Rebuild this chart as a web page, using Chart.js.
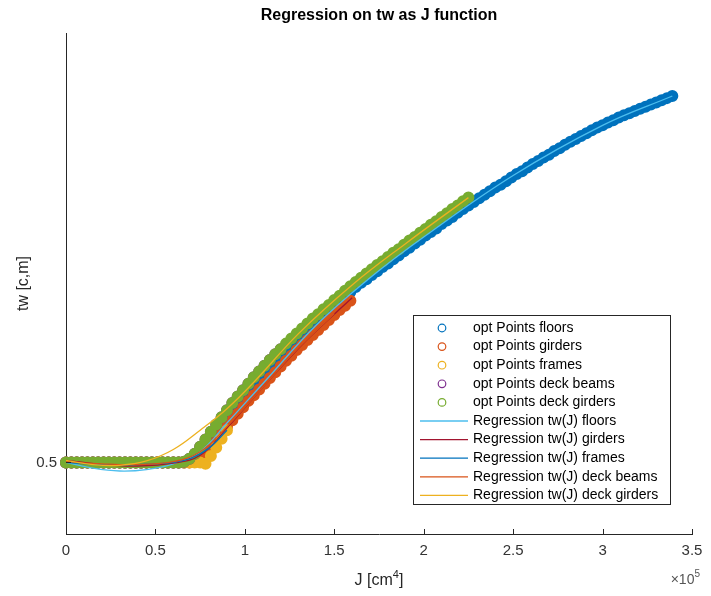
<!DOCTYPE html>
<html>
<head>
<meta charset="utf-8">
<title>Regression on tw as J function</title>
<script src="https://cdn.jsdelivr.net/npm/chart.js@4.4.0/dist/chart.umd.min.js"></script>
<style>
    body { margin: 0; background: #ffffff; }
    canvas { display: block; }
</style>
</head>
<body>
<canvas id="grafico" width="711" height="596"></canvas>
<script>
// J in units of 1e5 cm^4 (the axis shows x10^5)
const jPassos = [
    0.00, 0.03, 0.06, 0.09, 0.12, 0.15, 0.18, 0.21, 0.24, 0.27,
    0.30, 0.33, 0.36, 0.39, 0.42, 0.45, 0.48, 0.51, 0.54, 0.57,
    0.60, 0.63, 0.66, 0.69, 0.72, 0.75, 0.78, 0.81, 0.84, 0.87,
    0.90, 0.93, 0.96, 0.99, 1.02, 1.05, 1.08, 1.11, 1.14, 1.17,
    1.20, 1.23, 1.26, 1.29, 1.32, 1.35, 1.38, 1.41, 1.44, 1.47,
    1.50, 1.53, 1.56, 1.59, 1.62, 1.65, 1.68, 1.71, 1.74, 1.77,
    1.80, 1.83, 1.86, 1.89, 1.92, 1.95, 1.98, 2.01, 2.04, 2.07,
    2.10, 2.13, 2.16, 2.19, 2.22, 2.25, 2.28, 2.31, 2.34, 2.37,
    2.40, 2.43, 2.46, 2.49, 2.52, 2.55, 2.58, 2.61, 2.64, 2.67,
    2.70, 2.73, 2.76, 2.79, 2.82, 2.85, 2.88, 2.91, 2.94, 2.97,
    3.00, 3.03, 3.06, 3.09, 3.12, 3.15, 3.18, 3.21, 3.24, 3.27,
    3.30, 3.33, 3.36, 3.39
];

const twFloors = [
    0.500, 0.500, 0.500, 0.500, 0.500, 0.500, 0.500, 0.500, 0.500, 0.500,
    0.500, 0.500, 0.500, 0.500, 0.500, 0.500, 0.500, 0.500, 0.500, 0.500,
    0.500, 0.500, 0.500, 0.502, 0.507, 0.514, 0.522, 0.531, 0.540, 0.549,
    0.558, 0.567, 0.576, 0.585, 0.594, 0.602, 0.611, 0.619, 0.627, 0.635,
    0.643, 0.651, 0.659, 0.666, 0.674, 0.681, 0.688, 0.695, 0.702, 0.709,
    0.716, 0.723, 0.730, 0.738, 0.745, 0.751, 0.756, 0.762, 0.767, 0.773,
    0.778, 0.784, 0.789, 0.795, 0.800, 0.806, 0.811, 0.817, 0.822, 0.827,
    0.833, 0.838, 0.843, 0.849, 0.854, 0.859, 0.864, 0.869, 0.874, 0.879,
    0.884, 0.888, 0.893, 0.898, 0.903, 0.907, 0.912, 0.917, 0.921, 0.926,
    0.930, 0.935, 0.939, 0.944, 0.948, 0.952, 0.956, 0.960, 0.964, 0.968,
    0.971, 0.975, 0.978, 0.982, 0.985, 0.988, 0.991, 0.994, 0.997, 1.000,
    1.003, 1.006, 1.009, 1.012
];

const twGirders = [
    0.500, 0.500, 0.500, 0.500, 0.500, 0.500, 0.500, 0.500, 0.500, 0.500,
    0.500, 0.500, 0.500, 0.500, 0.500, 0.500, 0.500, 0.500, 0.500, 0.500,
    0.500, 0.500, 0.500, 0.500, 0.503, 0.508, 0.515, 0.523, 0.532, 0.541,
    0.550, 0.559, 0.568, 0.577, 0.586, 0.594, 0.602, 0.610, 0.618, 0.626,
    0.634, 0.642, 0.649, 0.657, 0.664, 0.671, 0.678, 0.685, 0.692, 0.699,
    0.706, 0.713, 0.719, 0.726
];

const twFrames = [
    0.500, 0.500, 0.500, 0.500, 0.500, 0.500, 0.500, 0.500, 0.500, 0.500,
    0.500, 0.500, 0.500, 0.500, 0.500, 0.500, 0.500, 0.500, 0.500, 0.500,
    0.500, 0.500, 0.500, 0.500, 0.500, 0.500, 0.498, 0.509, 0.521, 0.533,
    0.545
];

const twDeckBeams = [
    0.500, 0.500, 0.500, 0.500, 0.500, 0.500, 0.500, 0.500, 0.500, 0.500,
    0.500, 0.500, 0.500, 0.500, 0.500, 0.500, 0.500, 0.500, 0.500, 0.500,
    0.500, 0.500, 0.501, 0.505, 0.512, 0.522, 0.532, 0.543, 0.553, 0.563,
    0.573, 0.583, 0.592, 0.601, 0.610, 0.619, 0.627, 0.635, 0.643, 0.651,
    0.658
];

const twDeckGirders = [
    0.500, 0.500, 0.500, 0.500, 0.500, 0.500, 0.500, 0.500, 0.500, 0.500,
    0.500, 0.500, 0.500, 0.500, 0.500, 0.500, 0.500, 0.500, 0.500, 0.500,
    0.500, 0.500, 0.501, 0.505, 0.512, 0.522, 0.532, 0.543, 0.553, 0.563,
    0.573, 0.583, 0.592, 0.601, 0.610, 0.619, 0.627, 0.635, 0.643, 0.651,
    0.658, 0.666, 0.673, 0.680, 0.687, 0.694, 0.701, 0.707, 0.714, 0.720,
    0.727, 0.733, 0.740, 0.746, 0.752, 0.758, 0.764, 0.770, 0.776, 0.781,
    0.787, 0.793, 0.798, 0.804, 0.810, 0.815, 0.821, 0.826, 0.832, 0.837,
    0.843, 0.848, 0.854, 0.859, 0.865, 0.870
];

// regression curves
const jRegFloors = [0, 0.15, 0.30, 0.45, 0.60, 0.75, 0.90, 1.10, 1.40, 1.70, 2.00, 2.50, 3.00, 3.39];
const twRegFloors = [0.500, 0.492, 0.488, 0.490, 0.498, 0.515, 0.555, 0.610, 0.692, 0.758, 0.815, 0.901, 0.971, 1.012];

const jRegGirders = [0, 0.20, 0.40, 0.60, 0.75, 0.90, 1.10, 1.35, 1.60];
const twRegGirders = [0.503, 0.497, 0.495, 0.499, 0.510, 0.548, 0.605, 0.672, 0.730];

const jRegFrames = [0, 0.20, 0.40, 0.60, 0.70, 0.80, 0.90];
const twRegFrames = [0.500, 0.497, 0.497, 0.500, 0.506, 0.520, 0.545];

const jRegDeckBeams = [0, 0.20, 0.40, 0.60, 0.75, 0.90, 1.10, 1.30, 1.50];
const twRegDeckBeams = [0.501, 0.498, 0.497, 0.501, 0.515, 0.550, 0.605, 0.660, 0.708];

const jRegDeckGirders = [0, 0.15, 0.30, 0.45, 0.60, 0.75, 0.90, 1.05, 1.30, 1.60, 1.90, 2.25];
const twRegDeckGirders = [0.503, 0.497, 0.496, 0.502, 0.518, 0.545, 0.575, 0.612, 0.680, 0.748, 0.806, 0.870];

const yTicks = [0.5];

const FONTE = '"Liberation Sans", Arial, Helvetica, sans-serif';

function pontos(jVals, twVals) {
    let lista = [];
    for (let i = 0; i < twVals.length; i++) {
        lista.push({ x: jVals[i], y: twVals[i] });
    }
    return lista;
}

// the optimisation points are so dense that the circles merge into a band
function serieMarcadores(nome, jVals, twVals, cor, ordem) {
    return {
        label: nome,
        data: pontos(jVals, twVals),
        showLine: false,
        borderColor: cor,
        backgroundColor: 'rgba(0,0,0,0)',
        pointBorderColor: cor,
        pointBackgroundColor: 'rgba(0,0,0,0)',
        pointRadius: 3,
        pointBorderWidth: 6,
        pointHoverRadius: 3,
        clip: false,
        order: ordem,
        tipoLegenda: 'marcador'
    };
}

function serieLinha(nome, jVals, twVals, cor, ordem) {
    return {
        label: nome,
        data: pontos(jVals, twVals),
        showLine: true,
        borderColor: cor,
        backgroundColor: cor,
        borderWidth: 1.3,
        pointRadius: 0,
        pointHoverRadius: 0,
        tension: 0.4,
        fill: false,
        order: ordem,
        tipoLegenda: 'linha'
    };
}

// later series must end up on top, like the original plot
const datasets = [
    serieMarcadores('opt Points floors', jPassos, twFloors, '#0072BD', 20),
    serieMarcadores('opt Points girders', jPassos, twGirders, '#D95319', 19),
    serieMarcadores('opt Points frames', jPassos, twFrames, '#EDB120', 18),
    serieMarcadores('opt Points deck beams', jPassos, twDeckBeams, '#7E2F8E', 17),
    serieMarcadores('opt Points deck girders', jPassos, twDeckGirders, '#77AC30', 16),
    serieLinha('Regression tw(J) floors', jRegFloors, twRegFloors, '#4DBEEE', 15),
    serieLinha('Regression tw(J) girders', jRegGirders, twRegGirders, '#A2142F', 14),
    serieLinha('Regression tw(J) frames', jRegFrames, twRegFrames, '#0072BD', 13),
    serieLinha('Regression tw(J) deck beams', jRegDeckBeams, twRegDeckBeams, '#D95319', 12),
    serieLinha('Regression tw(J) deck girders', jRegDeckGirders, twRegDeckGirders, '#EDB120', 11)
];

const decoracao = {
    id: 'decoracao',
    afterDraw(chart) {
        const ctx = chart.ctx;
        const area = chart.chartArea;
        const sx = chart.scales.x;
        const sy = chart.scales.y;
        const meio = (area.left + area.right) / 2;

        ctx.save();

        // ticks pointing inside the axes
        ctx.strokeStyle = '#262626';
        ctx.lineWidth = 1;
        ctx.beginPath();
        sx.ticks.forEach(function (t) {
            let px = Math.round(sx.getPixelForValue(t.value)) + 0.5;
            ctx.moveTo(px, area.bottom);
            ctx.lineTo(px, area.bottom - 5);
        });
        sy.ticks.forEach(function (t) {
            let py = Math.round(sy.getPixelForValue(t.value)) + 0.5;
            ctx.moveTo(area.left, py);
            ctx.lineTo(area.left + 5, py);
        });
        ctx.stroke();

        // title
        ctx.fillStyle = '#000000';
        ctx.textAlign = 'center';
        ctx.textBaseline = 'middle';
        ctx.font = 'bold 16px ' + FONTE;
        ctx.fillText('Regression on tw as J function', meio, 16);

        // x label with superscript
        ctx.fillStyle = '#262626';
        ctx.textAlign = 'left';
        ctx.textBaseline = 'alphabetic';
        ctx.font = '16px ' + FONTE;
        let p1 = 'J [cm';
        let p3 = ']';
        let w1 = ctx.measureText(p1).width;
        let w3 = ctx.measureText(p3).width;
        ctx.font = '11px ' + FONTE;
        let w2 = ctx.measureText('4').width;
        let xIni = meio - (w1 + w2 + w3) / 2;
        let base = 585;
        ctx.font = '16px ' + FONTE;
        ctx.fillText(p1, xIni, base);
        ctx.font = '11px ' + FONTE;
        ctx.fillText('4', xIni + w1, base - 7);
        ctx.font = '16px ' + FONTE;
        ctx.fillText(p3, xIni + w1 + w2, base);

        // x10^5 exponent label
        ctx.fillStyle = '#555555';
        ctx.font = '14px ' + FONTE;
        let wx = ctx.measureText('\u00d710').width;
        ctx.font = '10px ' + FONTE;
        let w5 = ctx.measureText('5').width;
        let xDir = area.right + 8;
        ctx.font = '14px ' + FONTE;
        ctx.fillText('\u00d710', xDir - w5 - wx, 584);
        ctx.font = '10px ' + FONTE;
        ctx.fillText('5', xDir - w5, 577);

        // y label
        ctx.fillStyle = '#262626';
        ctx.save();
        ctx.translate(24, (area.top + area.bottom) / 2);
        ctx.rotate(-Math.PI / 2);
        ctx.textAlign = 'center';
        ctx.textBaseline = 'middle';
        ctx.font = '16px ' + FONTE;
        ctx.fillText('tw [c,m]', 0, 0);
        ctx.restore();

        // legend box
        let lx = 413, ly = 315, lw = 257, lh = 189;
        ctx.fillStyle = '#ffffff';
        ctx.fillRect(lx, ly, lw, lh);
        ctx.strokeStyle = '#262626';
        ctx.lineWidth = 1;
        ctx.strokeRect(lx + 0.5, ly + 0.5, lw, lh);

        ctx.font = '14px ' + FONTE;
        ctx.textAlign = 'left';
        ctx.textBaseline = 'middle';
        chart.data.datasets.forEach(function (ds, i) {
            let yy = ly + 13 + i * 18.6;
            ctx.strokeStyle = ds.borderColor;
            if (ds.tipoLegenda === 'marcador') {
                ctx.lineWidth = 1.2;
                ctx.beginPath();
                ctx.arc(442, yy, 3.8, 0, Math.PI * 2);
                ctx.stroke();
            } else {
                ctx.lineWidth = 1.3;
                ctx.beginPath();
                ctx.moveTo(420, yy);
                ctx.lineTo(468, yy);
                ctx.stroke();
            }
            ctx.fillStyle = '#000000';
            ctx.fillText(ds.label, 473, yy);
        });

        ctx.restore();
    }
};

Chart.defaults.font.family = FONTE;

const grafico = new Chart(document.getElementById('grafico'), {
    type: 'scatter',
    data: { datasets: datasets },
    options: {
        responsive: false,
        animation: false,
        events: [],
        layout: { padding: { left: 0, right: 19, top: 33, bottom: 0 } },
        plugins: {
            legend: { display: false },
            title: { display: false },
            tooltip: { enabled: false }
        },
        scales: {
            x: {
                type: 'linear',
                min: 0,
                max: 3.5,
                afterFit: function (scale) { scale.height = 62; },
                ticks: {
                    stepSize: 0.5,
                    padding: 8,
                    color: '#333333',
                    font: { size: 15 },
                    maxRotation: 0,
                    callback: function (valor) {
                        return String(Math.round(valor * 10) / 10);
                    }
                },
                grid: { drawOnChartArea: false, drawTicks: false },
                border: { color: '#262626', width: 1 }
            },
            y: {
                type: 'linear',
                min: 0.4,
                max: 1.1,
                afterFit: function (scale) { scale.width = 66; },
                afterBuildTicks: function (scale) {
                    scale.ticks = yTicks.map(function (v) { return { value: v }; });
                },
                ticks: {
                    padding: 9,
                    color: '#333333',
                    font: { size: 15 }
                },
                grid: { drawOnChartArea: false, drawTicks: false },
                border: { color: '#262626', width: 1 }
            }
        }
    },
    plugins: [decoracao]
});
</script>
</body>
</html>
